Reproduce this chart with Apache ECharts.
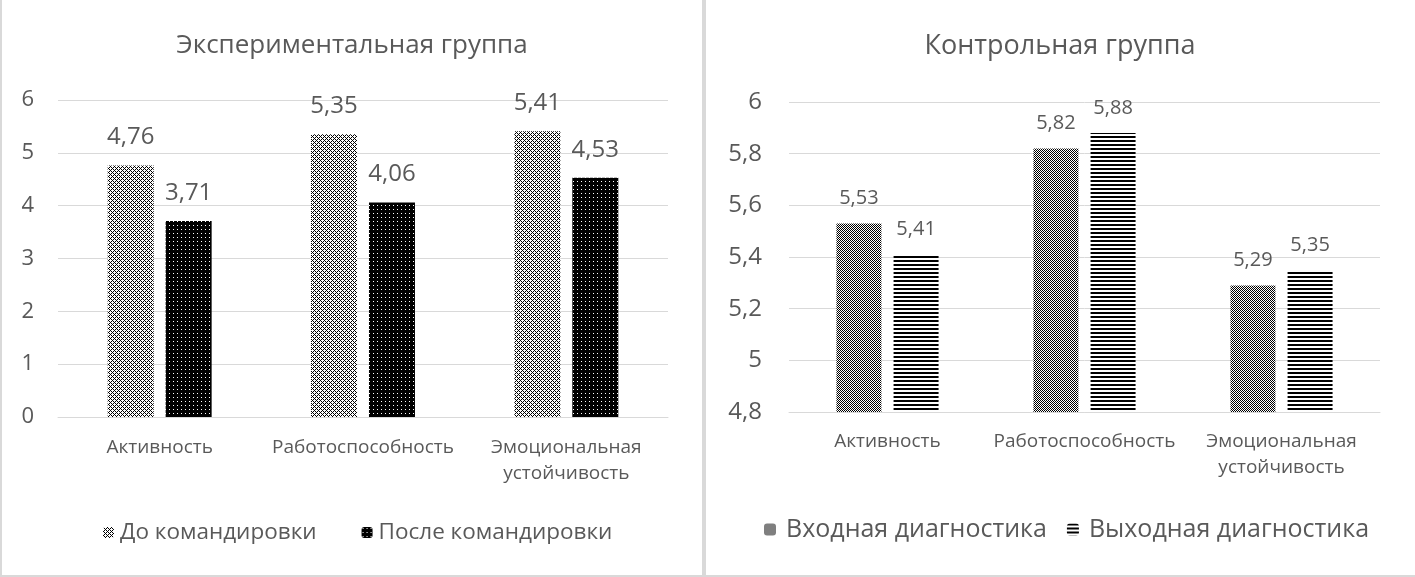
<!DOCTYPE html>
<html><head><meta charset="utf-8">
<script src="https://cdn.jsdelivr.net/npm/echarts@6/dist/echarts.min.js"></script>
<style>html,body{margin:0;padding:0;background:#fff}#c{width:1415px;height:577px}</style>
</head><body><div id="c"></div>
<script>
// ---- data ----
const categories = ['Активность', 'Работоспособность', 'Эмоциональная\nустойчивость'];
const leftTitle = 'Экспериментальная группа';
const rightTitle = 'Контрольная группа';
const leftSeriesNames = ['До командировки', 'После командировки'];
const leftBefore = [4.76, 5.35, 5.41];
const leftAfter = [3.71, 4.06, 4.53];
const rightSeriesNames = ['Входная диагностика', 'Выходная диагностика'];
const rightIn = [5.53, 5.82, 5.29];
const rightOut = [5.41, 5.88, 5.35];
const leftTicks = {min: 0, max: 6, interval: 1};
const rightTicks = {min: 4.8, max: 6, interval: 0.2};

// ---- patterns ----
function pattern(w, h, fn) {
  const c = document.createElement('canvas');
  c.width = w; c.height = h;
  const ctx = c.getContext('2d');
  ctx.fillStyle = '#fff'; ctx.fillRect(0, 0, w, h);
  ctx.fillStyle = '#000';
  for (let y = 0; y < h; y++) for (let x = 0; x < w; x++) if (fn(x, y)) ctx.fillRect(x, y, 1, 1);
  return {image: c, repeat: 'repeat'};
}
const patBefore = pattern(4, 4, (x, y) => ((x + y) % 2 === 0) && !(x === 2 && y === 0) && !(x === 0 && y === 2));
const patAfter = pattern(4, 4, (x, y) => !(x === 1 && y === 1));
const patIn = pattern(2, 2, (x, y) => (x + y) % 2 === 0);
const patOut = pattern(1, 4, (x, y) => y < 2);

const txt = '#595959';
const font = 'Open Sans';
const fmt = v => String(Math.round(v * 100) / 100).replace('.', ',');

const chart = echarts.init(document.getElementById('c'), null, {renderer: 'canvas'});
chart.setOption({
  animation: false,
  textStyle: {fontFamily: font},
  title: [
    {text: leftTitle, left: 347, top: 28, textAlign: 'center', textStyle: {color: txt, fontSize: 26, fontWeight: 'normal', fontFamily: font}},
    {text: rightTitle, left: 1055, top: 28, textAlign: 'center', textStyle: {color: txt, fontSize: 27, fontWeight: 'normal', fontFamily: font}}
  ],
  legend: [
    {data: leftSeriesNames, left: 98, top: 516, itemWidth: 11, itemHeight: 11, itemGap: 45,
      textStyle: {color: txt, fontSize: 22.5, fontFamily: font, padding: [0, 0, 0, 1]}},
    {data: rightSeriesNames, left: 759, top: 512, itemWidth: 12, itemHeight: 12, itemGap: 20,
      textStyle: {color: txt, fontSize: 25, fontFamily: font, padding: [0, 0, 0, 5]}}
  ],
  grid: [
    {left: 58, top: 100, width: 610, height: 317},
    {left: 789, top: 102, width: 591, height: 310}
  ],
  xAxis: [
    {type: 'category', gridIndex: 0, data: categories,
      axisLine: {lineStyle: {color: '#d9d9d9'}}, axisTick: {show: false},
      axisLabel: {color: txt, fontSize: 19, margin: 18, lineHeight: 26, interval: 0, fontFamily: font}},
    {type: 'category', gridIndex: 1, data: categories,
      axisLine: {lineStyle: {color: '#d9d9d9'}}, axisTick: {show: false},
      axisLabel: {color: txt, fontSize: 19, margin: 17, lineHeight: 26, interval: 0, fontFamily: font}}
  ],
  yAxis: [
    {type: 'value', gridIndex: 0, min: leftTicks.min, max: leftTicks.max, interval: leftTicks.interval,
      axisLine: {show: false}, axisTick: {show: false},
      splitLine: {lineStyle: {color: '#d9d9d9', width: 1}},
      axisLabel: {color: txt, fontSize: 22, margin: 24, fontFamily: font, formatter: fmt}},
    {type: 'value', gridIndex: 1, min: rightTicks.min, max: rightTicks.max, interval: rightTicks.interval,
      axisLine: {show: false}, axisTick: {show: false},
      splitLine: {lineStyle: {color: '#d9d9d9', width: 1}},
      axisLabel: {color: txt, fontSize: 24, margin: 27, fontFamily: font, formatter: fmt}}
  ],
  series: [
    {name: leftSeriesNames[0], type: 'bar', xAxisIndex: 0, yAxisIndex: 0, data: leftBefore,
      barWidth: 46, barGap: '26%', itemStyle: {color: patBefore},
      label: {show: true, position: 'top', distance: 16, color: txt, fontSize: 24, fontFamily: font, formatter: p => fmt(p.value)}},
    {name: leftSeriesNames[1], type: 'bar', xAxisIndex: 0, yAxisIndex: 0, data: leftAfter,
      barWidth: 46, barGap: '26%', itemStyle: {color: patAfter},
      label: {show: true, position: 'top', distance: 16, color: txt, fontSize: 24, fontFamily: font, formatter: p => fmt(p.value)}},
    {name: rightSeriesNames[0], type: 'bar', xAxisIndex: 1, yAxisIndex: 1, data: rightIn,
      barWidth: 45, barGap: '27%', itemStyle: {color: patIn},
      label: {show: true, position: 'top', distance: 15, color: txt, fontSize: 20, fontFamily: font, formatter: p => fmt(p.value)}},
    {name: rightSeriesNames[1], type: 'bar', xAxisIndex: 1, yAxisIndex: 1, data: rightOut,
      barWidth: 45, barGap: '27%', itemStyle: {color: patOut},
      label: {show: true, position: 'top', distance: 15, color: txt, fontSize: 20, fontFamily: font, formatter: p => fmt(p.value)}}
  ],
  graphic: [
    {type: 'rect', shape: {x: 0, y: 0, width: 2, height: 577}, style: {fill: '#d9d9d9'}, silent: true},
    {type: 'rect', shape: {x: 702, y: 0, width: 4, height: 577}, style: {fill: '#d9d9d9'}, silent: true},
    {type: 'rect', shape: {x: 0, y: 575, width: 1415, height: 2}, style: {fill: '#d9d9d9'}, silent: true}
  ]
});
</script></body></html>
